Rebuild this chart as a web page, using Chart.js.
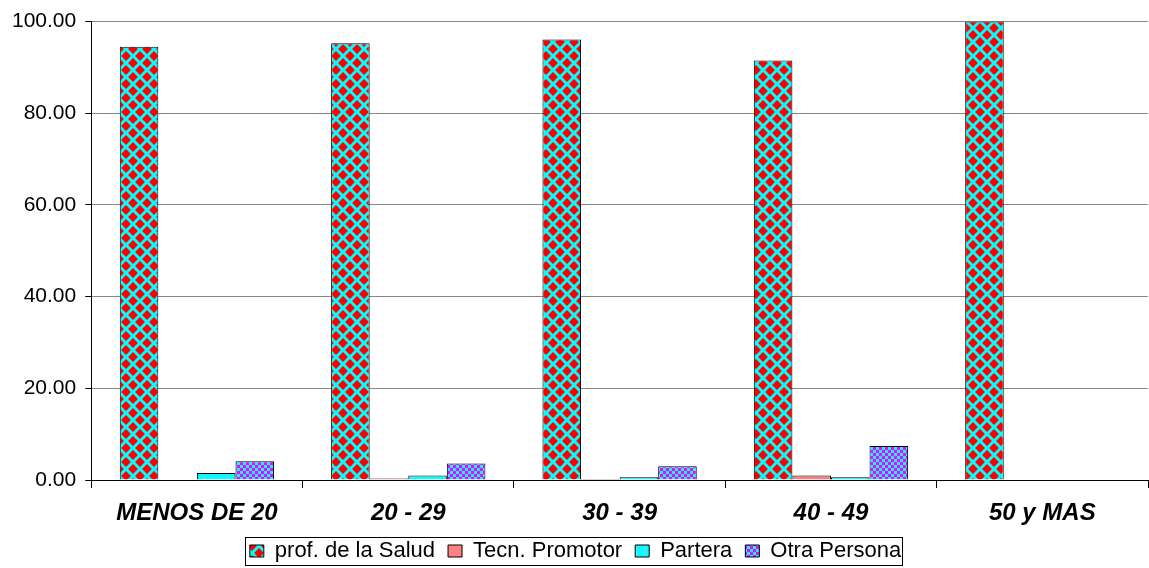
<!DOCTYPE html>
<html>
<head>
<meta charset="utf-8">
<script src="https://cdn.jsdelivr.net/npm/chart.js@4"></script>
<style>
  html, body { margin: 0; padding: 0; background: #fff; }
  #wrap { width: 1149px; height: 568px; }
</style>
</head>
<body>
<div id="wrap"><canvas id="c"></canvas></div>
<script>
const categories = ['MENOS DE 20', '20 - 29', '30 - 39', '40 - 49', '50 y MAS'];
const seriesNames = ['prof. de la Salud', 'Tecn. Promotor', 'Partera', 'Otra Persona'];
const profSalud = [94.5, 95.3, 96.1, 91.5, 100];
const tecnPromotor = [0, 0.3, 0.2, 1.0, 0];
const partera = [1.5, 1.0, 0.6, 0.6, 0];
const otraPersona = [4.1, 3.6, 3.0, 7.4, 0];
const yTicks = [0, 20, 40, 60, 80, 100];

// little tile patterns like the old office fills
const makePattern = (w, h, draw) => {
    const cv = document.createElement('canvas');
    cv.width = w;
    cv.height = h;
    const g = cv.getContext('2d');
    draw(g, w, h);
    return g.createPattern(cv, 'repeat');
};

const diamonds = makePattern(14, 14, (g, w, h) => {
    g.fillStyle = '#00FFFF';
    g.fillRect(0, 0, w, h);
    g.fillStyle = '#FF0000';
    const r = 4.9;
    const dia = (cx, cy) => {
        g.beginPath();
        g.moveTo(cx, cy - r);
        g.lineTo(cx + r, cy);
        g.lineTo(cx, cy + r);
        g.lineTo(cx - r, cy);
        g.closePath();
        g.fill();
    };
    dia(7, 7);
    dia(0, 0); dia(14, 0); dia(0, 14); dia(14, 14);
});

const grid = makePattern(8, 8, (g, w, h) => {
    g.fillStyle = '#00FFFF';
    g.fillRect(0, 0, w, h);
    g.fillStyle = '#90C8FF';
    g.fillRect(4, 0, 1, h);
});

const checks = makePattern(6, 6, (g, w, h) => {
    g.fillStyle = '#00FFFF';
    g.fillRect(0, 0, w, h);
    g.fillStyle = '#FF00FF';
    g.fillRect(0, 0, 3, 3);
    g.fillRect(3, 3, 3, 3);
});

const fills = [diamonds, '#FF8080', grid, checks];
const values = [profSalud, tecnPromotor, partera, otraPersona];

const legendBox = {
    id: 'legendBox',
    afterDraw(chart) {
        const boxes = chart.legend.legendHitBoxes;
        if (!boxes || !boxes.length) return;
        const first = boxes[0];
        const last = boxes[boxes.length - 1];
        const ctx = chart.ctx;
        ctx.save();
        ctx.strokeStyle = '#000';
        ctx.lineWidth = 1;
        ctx.strokeRect(Math.round(first.left) - 4.5, Math.round(first.top) - 2.5,
            Math.round(last.left + last.width - first.left) + 6, Math.round(first.height) + 6);
        ctx.restore();
    }
};

new Chart(document.getElementById('c'), {
    type: 'bar',
    data: {
        labels: categories,
        datasets: seriesNames.map((name, i) => ({
            label: name,
            data: values[i],
            backgroundColor: fills[i],
            borderColor: '#000',
            borderWidth: 1,
            categoryPercentage: 0.73,
            barPercentage: 1
        }))
    },
    options: {
        responsive: true,
        maintainAspectRatio: false,
        animation: false,
        layout: { padding: { top: 21, right: 1, left: 3, bottom: -4 } },
        plugins: {
            legend: {
                position: 'bottom',
                labels: {
                    color: '#000',
                    font: { family: 'Liberation Sans, Arial', size: 22 },
                    boxWidth: 14,
                    boxHeight: 12,
                    padding: 2,
                    generateLabels: (chart) => {
                        const items = Chart.defaults.plugins.legend.labels.generateLabels(chart);
                        items.forEach((it, i) => {
                            if (i < items.length - 1) it.text += '\u2002';
                        });
                        return items;
                    }
                }
            },
            tooltip: { enabled: false }
        },
        scales: {
            x: {
                grid: { display: true, drawOnChartArea: false, offset: true, tickLength: 8, tickColor: '#000' },
                border: { color: '#000' },
                ticks: {
                    color: '#000',
                    padding: 13,
                    font: { family: 'Liberation Sans, Arial', size: 24, weight: 'bold', style: 'italic', lineHeight: 1 }
                }
            },
            y: {
                min: 0,
                max: 100,
                afterBuildTicks: (axis) => { axis.ticks = yTicks.map(v => ({ value: v })); },
                grid: { color: '#888', tickLength: 6, tickColor: '#000' },
                border: { color: '#000' },
                ticks: {
                    color: '#000',
                    padding: 9,
                    font: { family: 'Liberation Sans, Arial', size: 21 },
                    callback: (v) => Number(v).toFixed(2)
                }
            }
        }
    },
    plugins: [legendBox]
});
</script>
</body>
</html>
